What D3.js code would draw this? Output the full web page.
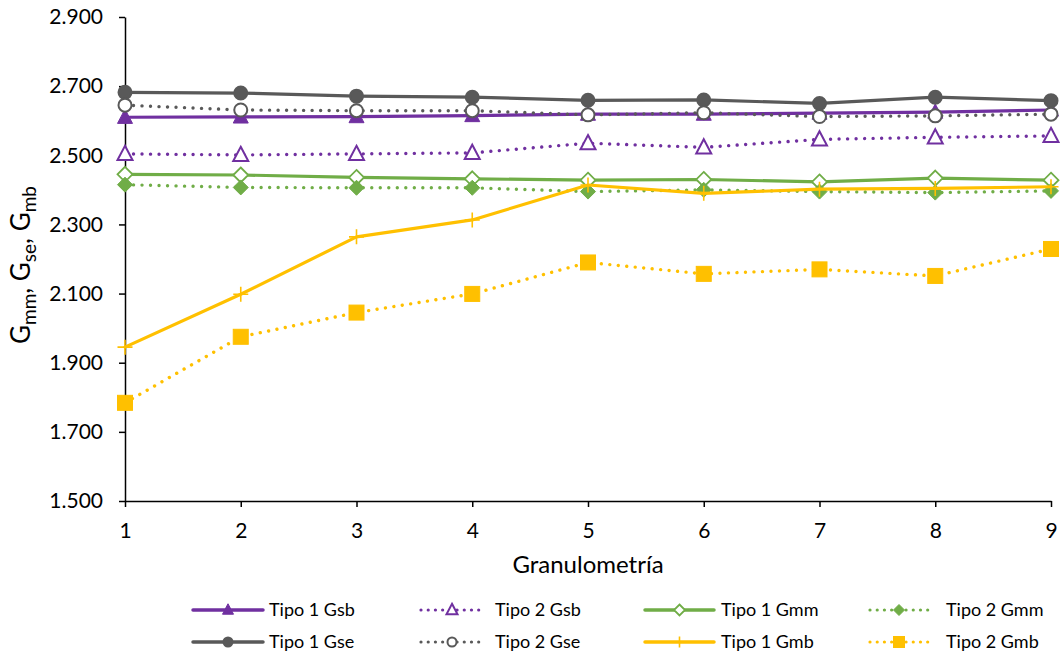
<!DOCTYPE html>
<html><head><meta charset="utf-8">
<script src="https://cdn.jsdelivr.net/npm/d3@7"></script>
<style>body{margin:0;background:#fff;} svg{display:block;font-family:Lato,'Open Sans',sans-serif;}</style>
</head><body>
<svg id="c" width="1060" height="656"></svg>
<script>
const categories = [1,2,3,4,5,6,7,8,9];
const yTicks = [1.5,1.7,1.9,2.1,2.3,2.5,2.7,2.9];
const tipo1Gsb = [2.610,2.611,2.612,2.615,2.619,2.619,2.622,2.625,2.631];
const tipo2Gsb = [2.504,2.501,2.504,2.507,2.535,2.523,2.546,2.552,2.556];
const tipo1Gmm = [2.445,2.443,2.436,2.432,2.428,2.430,2.423,2.434,2.428];
const tipo2Gmm = [2.415,2.407,2.406,2.406,2.395,2.400,2.395,2.392,2.397];
const tipo1Gse = [2.682,2.680,2.671,2.668,2.659,2.660,2.650,2.668,2.658];
const tipo2Gse = [2.645,2.631,2.629,2.629,2.617,2.623,2.612,2.614,2.619];
const tipo1Gmb = [1.945,2.098,2.264,2.313,2.414,2.390,2.402,2.404,2.409];
const tipo2Gmb = [1.784,1.975,2.045,2.099,2.190,2.157,2.170,2.151,2.229];

const PURPLE="#7030A0", GRAY="#595959", GREEN="#70AD47", YELLOW="#FFC000";
const series = [
  {name:"Tipo 1 Gsb", v:tipo1Gsb, color:PURPLE, dotted:false, marker:"triangle", fill:true},
  {name:"Tipo 2 Gsb", v:tipo2Gsb, color:PURPLE, dotted:true, marker:"triangle", fill:false},
  {name:"Tipo 1 Gmm", v:tipo1Gmm, color:GREEN, dotted:false, marker:"diamond", fill:false},
  {name:"Tipo 2 Gmm", v:tipo2Gmm, color:GREEN, dotted:true, marker:"diamond", fill:true},
  {name:"Tipo 1 Gse", v:tipo1Gse, color:GRAY, dotted:false, marker:"circle", fill:true},
  {name:"Tipo 2 Gse", v:tipo2Gse, color:GRAY, dotted:true, marker:"circle", fill:false},
  {name:"Tipo 1 Gmb", v:tipo1Gmb, color:YELLOW, dotted:false, marker:"plus", fill:true},
  {name:"Tipo 2 Gmb", v:tipo2Gmb, color:YELLOW, dotted:true, marker:"square", fill:true}
];

const FONT = "Lato,'Open Sans',sans-serif";
const svg = d3.select("#c");
const x = d3.scaleLinear().domain([1,9]).range([125,1051]);
const y = d3.scaleLinear().domain([1.5,2.9]).range([501,17]);

// axes
const yAxis = svg.append("g").attr("transform","translate(125,0)")
  .call(d3.axisLeft(y).tickValues(yTicks).tickFormat(d3.format(".3f")).tickSize(6).tickSizeOuter(0));
const xAxis = svg.append("g").attr("transform","translate(0,501)")
  .call(d3.axisBottom(x).tickValues(categories).tickFormat(d3.format("d")).tickSize(6).tickSizeOuter(0));
[yAxis,xAxis].forEach(a=>{
  a.attr("font-size",null).attr("font-family",null);
  a.selectAll("path,line").attr("stroke","#000").attr("stroke-width",1.5);
  a.selectAll("text").attr("fill","#000").style("font-size","21px").style("font-family",FONT);
});
yAxis.selectAll("text").attr("x",-22);
xAxis.selectAll("text").attr("y",22);

// axis titles
svg.append("text").attr("x",588).attr("y",573).attr("text-anchor","middle")
  .style("font-size","24px").style("font-family",FONT).attr("fill","#000").text("Granulometría");
const yt = svg.append("text").attr("transform","translate(30,265) rotate(-90)").attr("text-anchor","middle")
  .style("font-size","26px").style("font-family",FONT).attr("fill","#000");
[["G",""],["mm","sub"],[", G",""],["se","sub"],[", G",""],["mb","sub"]].forEach(([t,k])=>{
  const ts = yt.append("tspan").text(t);
  if(k==="sub") ts.attr("dy",6).style("font-size","19px");
  else ts.attr("dy", t==="G"?0:-6);
});

function drawMarker(g, m, cx, cy, color, fill, s){
  const f = fill ? color : "#fff";
  if(m==="circle") g.append("circle").attr("cx",cx).attr("cy",cy).attr("r",s/2-1).attr("fill",f).attr("stroke",color).attr("stroke-width",2);
  else if(m==="triangle"){ const h=s*0.95, w=s;
    g.append("path").attr("d",`M${cx},${cy-h/2-1}L${cx+w/2},${cy+h/2-1}L${cx-w/2},${cy+h/2-1}Z`).attr("fill",f).attr("stroke",color).attr("stroke-width",fill?1:2).attr("stroke-linejoin","miter");}
  else if(m==="diamond"){ const r=s/2;
    g.append("path").attr("d",`M${cx},${cy-r}L${cx+r},${cy}L${cx},${cy+r}L${cx-r},${cy}Z`).attr("fill",f).attr("stroke",color).attr("stroke-width",fill?1:1.8);}
  else if(m==="square"){ g.append("rect").attr("x",cx-s/2).attr("y",cy-s/2).attr("width",s).attr("height",s).attr("fill",color).attr("stroke",color).attr("stroke-width",1);}
  else if(m==="plus"){ const r=s/2;
    g.append("path").attr("d",`M${cx-r},${cy}L${cx+r},${cy}M${cx},${cy-r}L${cx},${cy+r}`).attr("stroke",color).attr("stroke-width",1.6).attr("fill","none");}
}

const line = d3.line().x((d,i)=>x(categories[i])).y(d=>y(d));
series.forEach(s=>{
  const g = svg.append("g");
  const p = g.append("path").datum(s.v).attr("d",line).attr("fill","none").attr("stroke",s.color)
    .attr("stroke-linejoin","round");
  if(s.dotted) p.attr("stroke-width",3.4).attr("stroke-linecap","round").attr("stroke-dasharray","0.01 8.5");
  else p.attr("stroke-width",3.2).attr("stroke-linecap","round");
  s.v.forEach((v,i)=>drawMarker(g, s.marker, x(categories[i]), y(v), s.color, s.fill, 15));
});

// legend
const lineX = [[193,263],[421,483],[645,714],[870,928]];
const textX = [269, 495, 721, 946];
const rowY = [610, 642];
series.forEach((s,i)=>{
  const col = i%4, row = Math.floor(i/4);
  const [x0,x1] = lineX[col], cy = rowY[row];
  const g = svg.append("g");
  const p = g.append("line").attr("x1",x0).attr("x2",x1).attr("y1",cy).attr("y2",cy).attr("stroke",s.color);
  if(s.dotted) p.attr("stroke-width",3.2).attr("stroke-linecap","round").attr("stroke-dasharray","0.01 7.2");
  else p.attr("stroke-width",3.5).attr("stroke-linecap","round");
  drawMarker(g, s.marker, (x0+x1)/2, cy, s.color, s.fill, 11);
  g.append("text").attr("x",textX[col]).attr("y",cy).attr("dy","0.35em").style("font-size","18px").style("font-family",FONT).attr("fill","#000").text(s.name);
});
</script>
</body></html>
